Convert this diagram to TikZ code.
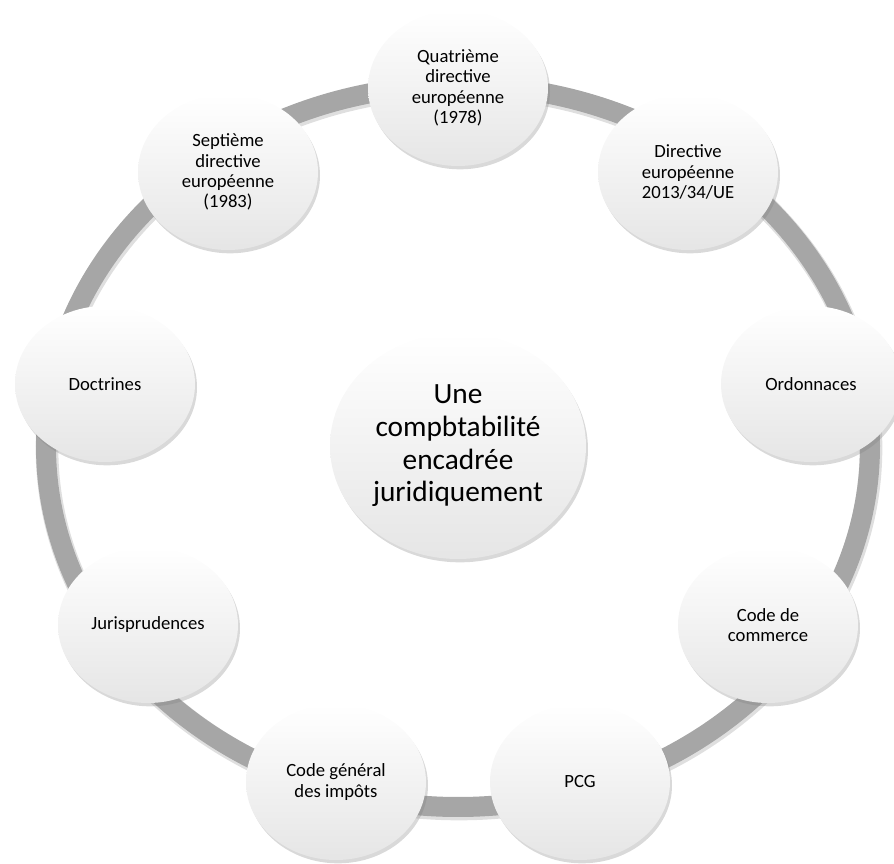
\documentclass[tikz,border=0pt]{standalone}
\usepackage{fontspec}
\setmainfont{Carlito}
\usetikzlibrary{shapes.geometric,shadows}

\begin{document}
\begin{tikzpicture}[x=0.75pt, y=0.75pt,
    main/.style = {ellipse, inner sep=0pt, minimum width=135pt, minimum height=117pt,
        align=center, font=\fontsize{14}{15.2}\selectfont,
        top color=white, middle color=white, bottom color=gray!20,
        drop shadow={shadow xshift=1.5pt, shadow yshift=-2.5pt, opacity=.3}},
    hub/.style = {main, minimum width=192pt, minimum height=169.5pt,
        font=\fontsize{22}{24.5}\selectfont}]
        \useasboundingbox (0,0) rectangle (894,864);

        % ring
        \draw[gray, opacity=.25, line width=17pt] (459,416) ellipse [x radius=412, y radius=361];
        \draw[gray!70, line width=15pt] (458,418) ellipse [x radius=412, y radius=361];

        \node[hub] (c) at (458,418) {Une\\compbtabilité\\encadrée\\juridiquement};

        \node[main] (1) at (458,776) {Quatrième\\directive\\européenne\\(1978)};
        \node[main] (2) at (688,692) {Directive\\européenne\\2013/34/UE};
        \node[main] (3) at (811,480) {Ordonnaces};
        \node[main] (4) at (768,239) {Code de\\commerce};
        \node[main] (5) at (580,82) {PCG};
        \node[main] (6) at (336,82) {Code général\\des impôts};
        \node[main] (7) at (148,239) {Jurisprudences};
        \node[main] (8) at (105,480) {Doctrines};
        \node[main] (9) at (228,692) {Septième\\directive\\européenne\\(1983)};

    \end{tikzpicture}
\end{document}
